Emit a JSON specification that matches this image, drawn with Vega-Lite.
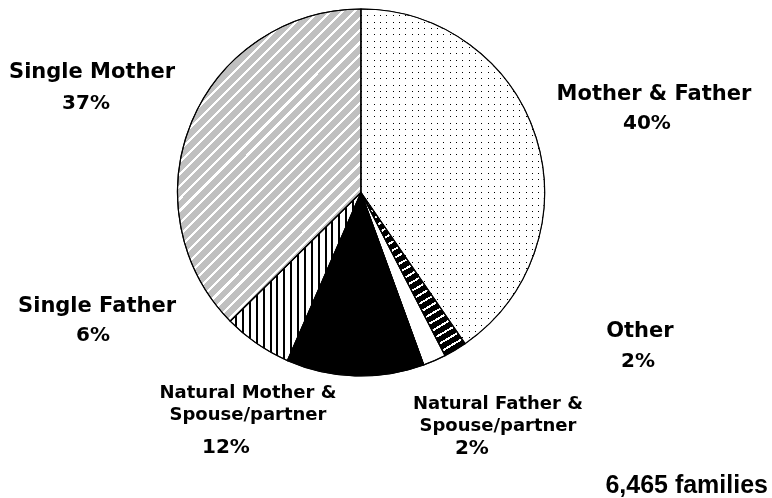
{
  "$schema": "https://vega.github.io/schema/vega-lite/v6.json",
  "autosize": "none",
  "width": 722,
  "height": 385,
  "padding": {"left": 0, "top": 0, "right": 50, "bottom": 113},
  "background": "#ffffff",
  "config": {"view": {"stroke": null}},
  "title": {"text": "6,465 families", "orient": "bottom", "anchor": "end", "frame": "group", "font": "Liberation Sans", "fontSize": 25, "fontWeight": "bold", "color": "#000000", "offset": -29, "dx": 46, "baseline": "alphabetic"},
  "data": {"values": [
    {"id": "MF", "name": "Mother & Father", "pct": "40%", "value": 40, "order": 1},
    {"id": "OT", "name": "Other", "pct": "2%", "value": 2, "order": 2},
    {"id": "NF", "name": "Natural Father &\nSpouse/partner", "pct": "2%", "value": 2, "order": 3},
    {"id": "NM", "name": "Natural Mother &\nSpouse/partner", "pct": "12%", "value": 12, "order": 4},
    {"id": "SF", "name": "Single Father", "pct": "6%", "value": 6, "order": 5},
    {"id": "SM", "name": "Single Mother", "pct": "37%", "value": 37, "order": 6}
  ]},
  "encoding": {
    "theta": {"field": "value", "type": "quantitative", "stack": true},
    "order": {"field": "order", "type": "quantitative"}
  },
  "layer": [
    {
      "mark": {"type": "arc", "radius": 183.5, "stroke": "#000000", "strokeWidth": 1},
      "encoding": {
        "fill": {
          "condition": [
            {"test": "datum.id==='NF'", "value": "#ffffff"},
            {"test": "datum.id==='NM'", "value": "#000000"},
            {"test": "datum.id==='MF'", "value": {"gradient": "linear", "x1": 0, "y1": 0, "x2": 1, "y2": 0, "stops": [
              {"offset": 0, "color": "#000"}, {"offset": 0.0055, "color": "#000"}, {"offset": 0.0055, "color": "#fff"}, {"offset": 0.03448, "color": "#fff"},
              {"offset": 0.03448, "color": "#000"}, {"offset": 0.03998, "color": "#000"}, {"offset": 0.03998, "color": "#fff"}, {"offset": 0.06897, "color": "#fff"},
              {"offset": 0.06897, "color": "#000"}, {"offset": 0.07447, "color": "#000"}, {"offset": 0.07447, "color": "#fff"}, {"offset": 0.10345, "color": "#fff"},
              {"offset": 0.10345, "color": "#000"}, {"offset": 0.10895, "color": "#000"}, {"offset": 0.10895, "color": "#fff"}, {"offset": 0.13793, "color": "#fff"},
              {"offset": 0.13793, "color": "#000"}, {"offset": 0.14343, "color": "#000"}, {"offset": 0.14343, "color": "#fff"}, {"offset": 0.17241, "color": "#fff"},
              {"offset": 0.17241, "color": "#000"}, {"offset": 0.17791, "color": "#000"}, {"offset": 0.17791, "color": "#fff"}, {"offset": 0.2069, "color": "#fff"},
              {"offset": 0.2069, "color": "#000"}, {"offset": 0.2124, "color": "#000"}, {"offset": 0.2124, "color": "#fff"}, {"offset": 0.24138, "color": "#fff"},
              {"offset": 0.24138, "color": "#000"}, {"offset": 0.24688, "color": "#000"}, {"offset": 0.24688, "color": "#fff"}, {"offset": 0.27586, "color": "#fff"},
              {"offset": 0.27586, "color": "#000"}, {"offset": 0.28136, "color": "#000"}, {"offset": 0.28136, "color": "#fff"}, {"offset": 0.31034, "color": "#fff"},
              {"offset": 0.31034, "color": "#000"}, {"offset": 0.31584, "color": "#000"}, {"offset": 0.31584, "color": "#fff"}, {"offset": 0.34483, "color": "#fff"},
              {"offset": 0.34483, "color": "#000"}, {"offset": 0.35033, "color": "#000"}, {"offset": 0.35033, "color": "#fff"}, {"offset": 0.37931, "color": "#fff"},
              {"offset": 0.37931, "color": "#000"}, {"offset": 0.38481, "color": "#000"}, {"offset": 0.38481, "color": "#fff"}, {"offset": 0.41379, "color": "#fff"},
              {"offset": 0.41379, "color": "#000"}, {"offset": 0.41929, "color": "#000"}, {"offset": 0.41929, "color": "#fff"}, {"offset": 0.44828, "color": "#fff"},
              {"offset": 0.44828, "color": "#000"}, {"offset": 0.45378, "color": "#000"}, {"offset": 0.45378, "color": "#fff"}, {"offset": 0.48276, "color": "#fff"},
              {"offset": 0.48276, "color": "#000"}, {"offset": 0.48826, "color": "#000"}, {"offset": 0.48826, "color": "#fff"}, {"offset": 0.51724, "color": "#fff"},
              {"offset": 0.51724, "color": "#000"}, {"offset": 0.52274, "color": "#000"}, {"offset": 0.52274, "color": "#fff"}, {"offset": 0.55172, "color": "#fff"},
              {"offset": 0.55172, "color": "#000"}, {"offset": 0.55722, "color": "#000"}, {"offset": 0.55722, "color": "#fff"}, {"offset": 0.58621, "color": "#fff"},
              {"offset": 0.58621, "color": "#000"}, {"offset": 0.59171, "color": "#000"}, {"offset": 0.59171, "color": "#fff"}, {"offset": 0.62069, "color": "#fff"},
              {"offset": 0.62069, "color": "#000"}, {"offset": 0.62619, "color": "#000"}, {"offset": 0.62619, "color": "#fff"}, {"offset": 0.65517, "color": "#fff"},
              {"offset": 0.65517, "color": "#000"}, {"offset": 0.66067, "color": "#000"}, {"offset": 0.66067, "color": "#fff"}, {"offset": 0.68966, "color": "#fff"},
              {"offset": 0.68966, "color": "#000"}, {"offset": 0.69516, "color": "#000"}, {"offset": 0.69516, "color": "#fff"}, {"offset": 0.72414, "color": "#fff"},
              {"offset": 0.72414, "color": "#000"}, {"offset": 0.72964, "color": "#000"}, {"offset": 0.72964, "color": "#fff"}, {"offset": 0.75862, "color": "#fff"},
              {"offset": 0.75862, "color": "#000"}, {"offset": 0.76412, "color": "#000"}, {"offset": 0.76412, "color": "#fff"}, {"offset": 0.7931, "color": "#fff"},
              {"offset": 0.7931, "color": "#000"}, {"offset": 0.7986, "color": "#000"}, {"offset": 0.7986, "color": "#fff"}, {"offset": 0.82759, "color": "#fff"},
              {"offset": 0.82759, "color": "#000"}, {"offset": 0.83309, "color": "#000"}, {"offset": 0.83309, "color": "#fff"}, {"offset": 0.86207, "color": "#fff"},
              {"offset": 0.86207, "color": "#000"}, {"offset": 0.86757, "color": "#000"}, {"offset": 0.86757, "color": "#fff"}, {"offset": 0.89655, "color": "#fff"},
              {"offset": 0.89655, "color": "#000"}, {"offset": 0.90205, "color": "#000"}, {"offset": 0.90205, "color": "#fff"}, {"offset": 0.93103, "color": "#fff"},
              {"offset": 0.93103, "color": "#000"}, {"offset": 0.93653, "color": "#000"}, {"offset": 0.93653, "color": "#fff"}, {"offset": 0.96552, "color": "#fff"},
              {"offset": 0.96552, "color": "#000"}, {"offset": 0.97102, "color": "#000"}, {"offset": 0.97102, "color": "#fff"}, {"offset": 1, "color": "#fff"}
            ]}},
            {"test": "datum.id==='SM'", "value": {"gradient": "linear", "x1": 0, "y1": 0, "x2": 0.694, "y2": 1.18, "stops": [
              {"offset": 0, "color": "#c0c0c0"}, {"offset": 0.01805, "color": "#c0c0c0"}, {"offset": 0.01805, "color": "#fff"}, {"offset": 0.02439, "color": "#fff"},
              {"offset": 0.02439, "color": "#c0c0c0"}, {"offset": 0.04244, "color": "#c0c0c0"}, {"offset": 0.04244, "color": "#fff"}, {"offset": 0.04878, "color": "#fff"},
              {"offset": 0.04878, "color": "#c0c0c0"}, {"offset": 0.06683, "color": "#c0c0c0"}, {"offset": 0.06683, "color": "#fff"}, {"offset": 0.07317, "color": "#fff"},
              {"offset": 0.07317, "color": "#c0c0c0"}, {"offset": 0.09122, "color": "#c0c0c0"}, {"offset": 0.09122, "color": "#fff"}, {"offset": 0.09756, "color": "#fff"},
              {"offset": 0.09756, "color": "#c0c0c0"}, {"offset": 0.11561, "color": "#c0c0c0"}, {"offset": 0.11561, "color": "#fff"}, {"offset": 0.12195, "color": "#fff"},
              {"offset": 0.12195, "color": "#c0c0c0"}, {"offset": 0.14, "color": "#c0c0c0"}, {"offset": 0.14, "color": "#fff"}, {"offset": 0.14634, "color": "#fff"},
              {"offset": 0.14634, "color": "#c0c0c0"}, {"offset": 0.16439, "color": "#c0c0c0"}, {"offset": 0.16439, "color": "#fff"}, {"offset": 0.17073, "color": "#fff"},
              {"offset": 0.17073, "color": "#c0c0c0"}, {"offset": 0.18878, "color": "#c0c0c0"}, {"offset": 0.18878, "color": "#fff"}, {"offset": 0.19512, "color": "#fff"},
              {"offset": 0.19512, "color": "#c0c0c0"}, {"offset": 0.21317, "color": "#c0c0c0"}, {"offset": 0.21317, "color": "#fff"}, {"offset": 0.21951, "color": "#fff"},
              {"offset": 0.21951, "color": "#c0c0c0"}, {"offset": 0.23756, "color": "#c0c0c0"}, {"offset": 0.23756, "color": "#fff"}, {"offset": 0.2439, "color": "#fff"},
              {"offset": 0.2439, "color": "#c0c0c0"}, {"offset": 0.26195, "color": "#c0c0c0"}, {"offset": 0.26195, "color": "#fff"}, {"offset": 0.26829, "color": "#fff"},
              {"offset": 0.26829, "color": "#c0c0c0"}, {"offset": 0.28634, "color": "#c0c0c0"}, {"offset": 0.28634, "color": "#fff"}, {"offset": 0.29268, "color": "#fff"},
              {"offset": 0.29268, "color": "#c0c0c0"}, {"offset": 0.31073, "color": "#c0c0c0"}, {"offset": 0.31073, "color": "#fff"}, {"offset": 0.31707, "color": "#fff"},
              {"offset": 0.31707, "color": "#c0c0c0"}, {"offset": 0.33512, "color": "#c0c0c0"}, {"offset": 0.33512, "color": "#fff"}, {"offset": 0.34146, "color": "#fff"},
              {"offset": 0.34146, "color": "#c0c0c0"}, {"offset": 0.35951, "color": "#c0c0c0"}, {"offset": 0.35951, "color": "#fff"}, {"offset": 0.36585, "color": "#fff"},
              {"offset": 0.36585, "color": "#c0c0c0"}, {"offset": 0.3839, "color": "#c0c0c0"}, {"offset": 0.3839, "color": "#fff"}, {"offset": 0.39024, "color": "#fff"},
              {"offset": 0.39024, "color": "#c0c0c0"}, {"offset": 0.40829, "color": "#c0c0c0"}, {"offset": 0.40829, "color": "#fff"}, {"offset": 0.41463, "color": "#fff"},
              {"offset": 0.41463, "color": "#c0c0c0"}, {"offset": 0.43268, "color": "#c0c0c0"}, {"offset": 0.43268, "color": "#fff"}, {"offset": 0.43902, "color": "#fff"},
              {"offset": 0.43902, "color": "#c0c0c0"}, {"offset": 0.45707, "color": "#c0c0c0"}, {"offset": 0.45707, "color": "#fff"}, {"offset": 0.46341, "color": "#fff"},
              {"offset": 0.46341, "color": "#c0c0c0"}, {"offset": 0.48146, "color": "#c0c0c0"}, {"offset": 0.48146, "color": "#fff"}, {"offset": 0.4878, "color": "#fff"},
              {"offset": 0.4878, "color": "#c0c0c0"}, {"offset": 0.50585, "color": "#c0c0c0"}, {"offset": 0.50585, "color": "#fff"}, {"offset": 0.5122, "color": "#fff"},
              {"offset": 0.5122, "color": "#c0c0c0"}, {"offset": 0.53025, "color": "#c0c0c0"}, {"offset": 0.53025, "color": "#fff"}, {"offset": 0.53659, "color": "#fff"},
              {"offset": 0.53659, "color": "#c0c0c0"}, {"offset": 0.55464, "color": "#c0c0c0"}, {"offset": 0.55464, "color": "#fff"}, {"offset": 0.56098, "color": "#fff"},
              {"offset": 0.56098, "color": "#c0c0c0"}, {"offset": 0.57903, "color": "#c0c0c0"}, {"offset": 0.57903, "color": "#fff"}, {"offset": 0.58537, "color": "#fff"},
              {"offset": 0.58537, "color": "#c0c0c0"}, {"offset": 0.60342, "color": "#c0c0c0"}, {"offset": 0.60342, "color": "#fff"}, {"offset": 0.60976, "color": "#fff"},
              {"offset": 0.60976, "color": "#c0c0c0"}, {"offset": 0.62781, "color": "#c0c0c0"}, {"offset": 0.62781, "color": "#fff"}, {"offset": 0.63415, "color": "#fff"},
              {"offset": 0.63415, "color": "#c0c0c0"}, {"offset": 0.6522, "color": "#c0c0c0"}, {"offset": 0.6522, "color": "#fff"}, {"offset": 0.65854, "color": "#fff"},
              {"offset": 0.65854, "color": "#c0c0c0"}, {"offset": 0.67659, "color": "#c0c0c0"}, {"offset": 0.67659, "color": "#fff"}, {"offset": 0.68293, "color": "#fff"},
              {"offset": 0.68293, "color": "#c0c0c0"}, {"offset": 0.70098, "color": "#c0c0c0"}, {"offset": 0.70098, "color": "#fff"}, {"offset": 0.70732, "color": "#fff"},
              {"offset": 0.70732, "color": "#c0c0c0"}, {"offset": 0.72537, "color": "#c0c0c0"}, {"offset": 0.72537, "color": "#fff"}, {"offset": 0.73171, "color": "#fff"},
              {"offset": 0.73171, "color": "#c0c0c0"}, {"offset": 0.74976, "color": "#c0c0c0"}, {"offset": 0.74976, "color": "#fff"}, {"offset": 0.7561, "color": "#fff"},
              {"offset": 0.7561, "color": "#c0c0c0"}, {"offset": 0.77415, "color": "#c0c0c0"}, {"offset": 0.77415, "color": "#fff"}, {"offset": 0.78049, "color": "#fff"},
              {"offset": 0.78049, "color": "#c0c0c0"}, {"offset": 0.79854, "color": "#c0c0c0"}, {"offset": 0.79854, "color": "#fff"}, {"offset": 0.80488, "color": "#fff"},
              {"offset": 0.80488, "color": "#c0c0c0"}, {"offset": 0.82293, "color": "#c0c0c0"}, {"offset": 0.82293, "color": "#fff"}, {"offset": 0.82927, "color": "#fff"},
              {"offset": 0.82927, "color": "#c0c0c0"}, {"offset": 0.84732, "color": "#c0c0c0"}, {"offset": 0.84732, "color": "#fff"}, {"offset": 0.85366, "color": "#fff"},
              {"offset": 0.85366, "color": "#c0c0c0"}, {"offset": 0.87171, "color": "#c0c0c0"}, {"offset": 0.87171, "color": "#fff"}, {"offset": 0.87805, "color": "#fff"},
              {"offset": 0.87805, "color": "#c0c0c0"}, {"offset": 0.8961, "color": "#c0c0c0"}, {"offset": 0.8961, "color": "#fff"}, {"offset": 0.90244, "color": "#fff"},
              {"offset": 0.90244, "color": "#c0c0c0"}, {"offset": 0.92049, "color": "#c0c0c0"}, {"offset": 0.92049, "color": "#fff"}, {"offset": 0.92683, "color": "#fff"},
              {"offset": 0.92683, "color": "#c0c0c0"}, {"offset": 0.94488, "color": "#c0c0c0"}, {"offset": 0.94488, "color": "#fff"}, {"offset": 0.95122, "color": "#fff"},
              {"offset": 0.95122, "color": "#c0c0c0"}, {"offset": 0.96927, "color": "#c0c0c0"}, {"offset": 0.96927, "color": "#fff"}, {"offset": 0.97561, "color": "#fff"},
              {"offset": 0.97561, "color": "#c0c0c0"}, {"offset": 0.99366, "color": "#c0c0c0"}, {"offset": 0.99366, "color": "#fff"}, {"offset": 1, "color": "#fff"}
            ]}},
            {"test": "datum.id==='SF'", "value": {"gradient": "linear", "x1": 0, "y1": 0, "x2": 1, "y2": 0, "stops": [
              {"offset": 0, "color": "#fff"}, {"offset": 0.0374, "color": "#fff"}, {"offset": 0.0374, "color": "#000"}, {"offset": 0.0526, "color": "#000"},
              {"offset": 0.0526, "color": "#fff"}, {"offset": 0.09, "color": "#fff"}, {"offset": 0.09, "color": "#000"}, {"offset": 0.1053, "color": "#000"},
              {"offset": 0.1053, "color": "#fff"}, {"offset": 0.1427, "color": "#fff"}, {"offset": 0.1427, "color": "#000"}, {"offset": 0.1579, "color": "#000"},
              {"offset": 0.1579, "color": "#fff"}, {"offset": 0.1953, "color": "#fff"}, {"offset": 0.1953, "color": "#000"}, {"offset": 0.2105, "color": "#000"},
              {"offset": 0.2105, "color": "#fff"}, {"offset": 0.2479, "color": "#fff"}, {"offset": 0.2479, "color": "#000"}, {"offset": 0.2632, "color": "#000"},
              {"offset": 0.2632, "color": "#fff"}, {"offset": 0.3006, "color": "#fff"}, {"offset": 0.3006, "color": "#000"}, {"offset": 0.3158, "color": "#000"},
              {"offset": 0.3158, "color": "#fff"}, {"offset": 0.3532, "color": "#fff"}, {"offset": 0.3532, "color": "#000"}, {"offset": 0.3684, "color": "#000"},
              {"offset": 0.3684, "color": "#fff"}, {"offset": 0.4058, "color": "#fff"}, {"offset": 0.4058, "color": "#000"}, {"offset": 0.4211, "color": "#000"},
              {"offset": 0.4211, "color": "#fff"}, {"offset": 0.4585, "color": "#fff"}, {"offset": 0.4585, "color": "#000"}, {"offset": 0.4737, "color": "#000"},
              {"offset": 0.4737, "color": "#fff"}, {"offset": 0.5111, "color": "#fff"}, {"offset": 0.5111, "color": "#000"}, {"offset": 0.5263, "color": "#000"},
              {"offset": 0.5263, "color": "#fff"}, {"offset": 0.5637, "color": "#fff"}, {"offset": 0.5637, "color": "#000"}, {"offset": 0.5789, "color": "#000"},
              {"offset": 0.5789, "color": "#fff"}, {"offset": 0.6163, "color": "#fff"}, {"offset": 0.6163, "color": "#000"}, {"offset": 0.6316, "color": "#000"},
              {"offset": 0.6316, "color": "#fff"}, {"offset": 0.669, "color": "#fff"}, {"offset": 0.669, "color": "#000"}, {"offset": 0.6842, "color": "#000"},
              {"offset": 0.6842, "color": "#fff"}, {"offset": 0.7216, "color": "#fff"}, {"offset": 0.7216, "color": "#000"}, {"offset": 0.7368, "color": "#000"},
              {"offset": 0.7368, "color": "#fff"}, {"offset": 0.7742, "color": "#fff"}, {"offset": 0.7742, "color": "#000"}, {"offset": 0.7895, "color": "#000"},
              {"offset": 0.7895, "color": "#fff"}, {"offset": 0.8269, "color": "#fff"}, {"offset": 0.8269, "color": "#000"}, {"offset": 0.8421, "color": "#000"},
              {"offset": 0.8421, "color": "#fff"}, {"offset": 0.8795, "color": "#fff"}, {"offset": 0.8795, "color": "#000"}, {"offset": 0.8947, "color": "#000"},
              {"offset": 0.8947, "color": "#fff"}, {"offset": 0.9321, "color": "#fff"}, {"offset": 0.9321, "color": "#000"}, {"offset": 0.9474, "color": "#000"},
              {"offset": 0.9474, "color": "#fff"}, {"offset": 0.9848, "color": "#fff"}, {"offset": 0.9848, "color": "#000"}, {"offset": 1, "color": "#000"}
            ]}},
            {"test": "datum.id==='OT'", "value": {"gradient": "linear", "x1": 0, "y1": 0, "x2": 0.456, "y2": 1.206, "stops": [
              {"offset": 0, "color": "#000"}, {"offset": 0.0281, "color": "#000"}, {"offset": 0.0281, "color": "#fff"}, {"offset": 0.0385, "color": "#fff"},
              {"offset": 0.0385, "color": "#000"}, {"offset": 0.0665, "color": "#000"}, {"offset": 0.0665, "color": "#fff"}, {"offset": 0.0769, "color": "#fff"},
              {"offset": 0.0769, "color": "#000"}, {"offset": 0.105, "color": "#000"}, {"offset": 0.105, "color": "#fff"}, {"offset": 0.1154, "color": "#fff"},
              {"offset": 0.1154, "color": "#000"}, {"offset": 0.1435, "color": "#000"}, {"offset": 0.1435, "color": "#fff"}, {"offset": 0.1538, "color": "#fff"},
              {"offset": 0.1538, "color": "#000"}, {"offset": 0.1819, "color": "#000"}, {"offset": 0.1819, "color": "#fff"}, {"offset": 0.1923, "color": "#fff"},
              {"offset": 0.1923, "color": "#000"}, {"offset": 0.2204, "color": "#000"}, {"offset": 0.2204, "color": "#fff"}, {"offset": 0.2308, "color": "#fff"},
              {"offset": 0.2308, "color": "#000"}, {"offset": 0.2588, "color": "#000"}, {"offset": 0.2588, "color": "#fff"}, {"offset": 0.2692, "color": "#fff"},
              {"offset": 0.2692, "color": "#000"}, {"offset": 0.2973, "color": "#000"}, {"offset": 0.2973, "color": "#fff"}, {"offset": 0.3077, "color": "#fff"},
              {"offset": 0.3077, "color": "#000"}, {"offset": 0.3358, "color": "#000"}, {"offset": 0.3358, "color": "#fff"}, {"offset": 0.3462, "color": "#fff"},
              {"offset": 0.3462, "color": "#000"}, {"offset": 0.3742, "color": "#000"}, {"offset": 0.3742, "color": "#fff"}, {"offset": 0.3846, "color": "#fff"},
              {"offset": 0.3846, "color": "#000"}, {"offset": 0.4127, "color": "#000"}, {"offset": 0.4127, "color": "#fff"}, {"offset": 0.4231, "color": "#fff"},
              {"offset": 0.4231, "color": "#000"}, {"offset": 0.4512, "color": "#000"}, {"offset": 0.4512, "color": "#fff"}, {"offset": 0.4615, "color": "#fff"},
              {"offset": 0.4615, "color": "#000"}, {"offset": 0.4896, "color": "#000"}, {"offset": 0.4896, "color": "#fff"}, {"offset": 0.5, "color": "#fff"},
              {"offset": 0.5, "color": "#000"}, {"offset": 0.5281, "color": "#000"}, {"offset": 0.5281, "color": "#fff"}, {"offset": 0.5385, "color": "#fff"},
              {"offset": 0.5385, "color": "#000"}, {"offset": 0.5665, "color": "#000"}, {"offset": 0.5665, "color": "#fff"}, {"offset": 0.5769, "color": "#fff"},
              {"offset": 0.5769, "color": "#000"}, {"offset": 0.605, "color": "#000"}, {"offset": 0.605, "color": "#fff"}, {"offset": 0.6154, "color": "#fff"},
              {"offset": 0.6154, "color": "#000"}, {"offset": 0.6435, "color": "#000"}, {"offset": 0.6435, "color": "#fff"}, {"offset": 0.6538, "color": "#fff"},
              {"offset": 0.6538, "color": "#000"}, {"offset": 0.6819, "color": "#000"}, {"offset": 0.6819, "color": "#fff"}, {"offset": 0.6923, "color": "#fff"},
              {"offset": 0.6923, "color": "#000"}, {"offset": 0.7204, "color": "#000"}, {"offset": 0.7204, "color": "#fff"}, {"offset": 0.7308, "color": "#fff"},
              {"offset": 0.7308, "color": "#000"}, {"offset": 0.7588, "color": "#000"}, {"offset": 0.7588, "color": "#fff"}, {"offset": 0.7692, "color": "#fff"},
              {"offset": 0.7692, "color": "#000"}, {"offset": 0.7973, "color": "#000"}, {"offset": 0.7973, "color": "#fff"}, {"offset": 0.8077, "color": "#fff"},
              {"offset": 0.8077, "color": "#000"}, {"offset": 0.8358, "color": "#000"}, {"offset": 0.8358, "color": "#fff"}, {"offset": 0.8462, "color": "#fff"},
              {"offset": 0.8462, "color": "#000"}, {"offset": 0.8742, "color": "#000"}, {"offset": 0.8742, "color": "#fff"}, {"offset": 0.8846, "color": "#fff"},
              {"offset": 0.8846, "color": "#000"}, {"offset": 0.9127, "color": "#000"}, {"offset": 0.9127, "color": "#fff"}, {"offset": 0.9231, "color": "#fff"},
              {"offset": 0.9231, "color": "#000"}, {"offset": 0.9512, "color": "#000"}, {"offset": 0.9512, "color": "#fff"}, {"offset": 0.9615, "color": "#fff"},
              {"offset": 0.9615, "color": "#000"}, {"offset": 0.9896, "color": "#000"}, {"offset": 0.9896, "color": "#fff"}, {"offset": 1, "color": "#fff"}
            ]}}
          ],
          "value": "#ffffff"
        }
      }
    },
    {
      "mark": {"type": "arc", "radius": 183.5, "blend": "lighten", "strokeWidth": 0},
      "encoding": {
        "fill": {
          "condition": {"test": "datum.id==='MF'", "value": {"gradient": "linear", "x1": 0, "y1": 0, "x2": 0, "y2": 1, "stops": [
            {"offset": 0, "color": "#000"}, {"offset": 0.003, "color": "#000"}, {"offset": 0.003, "color": "#fff"}, {"offset": 0.01887, "color": "#fff"},
            {"offset": 0.01887, "color": "#000"}, {"offset": 0.02187, "color": "#000"}, {"offset": 0.02187, "color": "#fff"}, {"offset": 0.03774, "color": "#fff"},
            {"offset": 0.03774, "color": "#000"}, {"offset": 0.04074, "color": "#000"}, {"offset": 0.04074, "color": "#fff"}, {"offset": 0.0566, "color": "#fff"},
            {"offset": 0.0566, "color": "#000"}, {"offset": 0.0596, "color": "#000"}, {"offset": 0.0596, "color": "#fff"}, {"offset": 0.07547, "color": "#fff"},
            {"offset": 0.07547, "color": "#000"}, {"offset": 0.07847, "color": "#000"}, {"offset": 0.07847, "color": "#fff"}, {"offset": 0.09434, "color": "#fff"},
            {"offset": 0.09434, "color": "#000"}, {"offset": 0.09734, "color": "#000"}, {"offset": 0.09734, "color": "#fff"}, {"offset": 0.11321, "color": "#fff"},
            {"offset": 0.11321, "color": "#000"}, {"offset": 0.11621, "color": "#000"}, {"offset": 0.11621, "color": "#fff"}, {"offset": 0.13208, "color": "#fff"},
            {"offset": 0.13208, "color": "#000"}, {"offset": 0.13508, "color": "#000"}, {"offset": 0.13508, "color": "#fff"}, {"offset": 0.15094, "color": "#fff"},
            {"offset": 0.15094, "color": "#000"}, {"offset": 0.15394, "color": "#000"}, {"offset": 0.15394, "color": "#fff"}, {"offset": 0.16981, "color": "#fff"},
            {"offset": 0.16981, "color": "#000"}, {"offset": 0.17281, "color": "#000"}, {"offset": 0.17281, "color": "#fff"}, {"offset": 0.18868, "color": "#fff"},
            {"offset": 0.18868, "color": "#000"}, {"offset": 0.19168, "color": "#000"}, {"offset": 0.19168, "color": "#fff"}, {"offset": 0.20755, "color": "#fff"},
            {"offset": 0.20755, "color": "#000"}, {"offset": 0.21055, "color": "#000"}, {"offset": 0.21055, "color": "#fff"}, {"offset": 0.22642, "color": "#fff"},
            {"offset": 0.22642, "color": "#000"}, {"offset": 0.22942, "color": "#000"}, {"offset": 0.22942, "color": "#fff"}, {"offset": 0.24528, "color": "#fff"},
            {"offset": 0.24528, "color": "#000"}, {"offset": 0.24828, "color": "#000"}, {"offset": 0.24828, "color": "#fff"}, {"offset": 0.26415, "color": "#fff"},
            {"offset": 0.26415, "color": "#000"}, {"offset": 0.26715, "color": "#000"}, {"offset": 0.26715, "color": "#fff"}, {"offset": 0.28302, "color": "#fff"},
            {"offset": 0.28302, "color": "#000"}, {"offset": 0.28602, "color": "#000"}, {"offset": 0.28602, "color": "#fff"}, {"offset": 0.30189, "color": "#fff"},
            {"offset": 0.30189, "color": "#000"}, {"offset": 0.30489, "color": "#000"}, {"offset": 0.30489, "color": "#fff"}, {"offset": 0.32075, "color": "#fff"},
            {"offset": 0.32075, "color": "#000"}, {"offset": 0.32375, "color": "#000"}, {"offset": 0.32375, "color": "#fff"}, {"offset": 0.33962, "color": "#fff"},
            {"offset": 0.33962, "color": "#000"}, {"offset": 0.34262, "color": "#000"}, {"offset": 0.34262, "color": "#fff"}, {"offset": 0.35849, "color": "#fff"},
            {"offset": 0.35849, "color": "#000"}, {"offset": 0.36149, "color": "#000"}, {"offset": 0.36149, "color": "#fff"}, {"offset": 0.37736, "color": "#fff"},
            {"offset": 0.37736, "color": "#000"}, {"offset": 0.38036, "color": "#000"}, {"offset": 0.38036, "color": "#fff"}, {"offset": 0.39623, "color": "#fff"},
            {"offset": 0.39623, "color": "#000"}, {"offset": 0.39923, "color": "#000"}, {"offset": 0.39923, "color": "#fff"}, {"offset": 0.41509, "color": "#fff"},
            {"offset": 0.41509, "color": "#000"}, {"offset": 0.41809, "color": "#000"}, {"offset": 0.41809, "color": "#fff"}, {"offset": 0.43396, "color": "#fff"},
            {"offset": 0.43396, "color": "#000"}, {"offset": 0.43696, "color": "#000"}, {"offset": 0.43696, "color": "#fff"}, {"offset": 0.45283, "color": "#fff"},
            {"offset": 0.45283, "color": "#000"}, {"offset": 0.45583, "color": "#000"}, {"offset": 0.45583, "color": "#fff"}, {"offset": 0.4717, "color": "#fff"},
            {"offset": 0.4717, "color": "#000"}, {"offset": 0.4747, "color": "#000"}, {"offset": 0.4747, "color": "#fff"}, {"offset": 0.49057, "color": "#fff"},
            {"offset": 0.49057, "color": "#000"}, {"offset": 0.49357, "color": "#000"}, {"offset": 0.49357, "color": "#fff"}, {"offset": 0.50943, "color": "#fff"},
            {"offset": 0.50943, "color": "#000"}, {"offset": 0.51243, "color": "#000"}, {"offset": 0.51243, "color": "#fff"}, {"offset": 0.5283, "color": "#fff"},
            {"offset": 0.5283, "color": "#000"}, {"offset": 0.5313, "color": "#000"}, {"offset": 0.5313, "color": "#fff"}, {"offset": 0.54717, "color": "#fff"},
            {"offset": 0.54717, "color": "#000"}, {"offset": 0.55017, "color": "#000"}, {"offset": 0.55017, "color": "#fff"}, {"offset": 0.56604, "color": "#fff"},
            {"offset": 0.56604, "color": "#000"}, {"offset": 0.56904, "color": "#000"}, {"offset": 0.56904, "color": "#fff"}, {"offset": 0.58491, "color": "#fff"},
            {"offset": 0.58491, "color": "#000"}, {"offset": 0.58791, "color": "#000"}, {"offset": 0.58791, "color": "#fff"}, {"offset": 0.60377, "color": "#fff"},
            {"offset": 0.60377, "color": "#000"}, {"offset": 0.60677, "color": "#000"}, {"offset": 0.60677, "color": "#fff"}, {"offset": 0.62264, "color": "#fff"},
            {"offset": 0.62264, "color": "#000"}, {"offset": 0.62564, "color": "#000"}, {"offset": 0.62564, "color": "#fff"}, {"offset": 0.64151, "color": "#fff"},
            {"offset": 0.64151, "color": "#000"}, {"offset": 0.64451, "color": "#000"}, {"offset": 0.64451, "color": "#fff"}, {"offset": 0.66038, "color": "#fff"},
            {"offset": 0.66038, "color": "#000"}, {"offset": 0.66338, "color": "#000"}, {"offset": 0.66338, "color": "#fff"}, {"offset": 0.67925, "color": "#fff"},
            {"offset": 0.67925, "color": "#000"}, {"offset": 0.68225, "color": "#000"}, {"offset": 0.68225, "color": "#fff"}, {"offset": 0.69811, "color": "#fff"},
            {"offset": 0.69811, "color": "#000"}, {"offset": 0.70111, "color": "#000"}, {"offset": 0.70111, "color": "#fff"}, {"offset": 0.71698, "color": "#fff"},
            {"offset": 0.71698, "color": "#000"}, {"offset": 0.71998, "color": "#000"}, {"offset": 0.71998, "color": "#fff"}, {"offset": 0.73585, "color": "#fff"},
            {"offset": 0.73585, "color": "#000"}, {"offset": 0.73885, "color": "#000"}, {"offset": 0.73885, "color": "#fff"}, {"offset": 0.75472, "color": "#fff"},
            {"offset": 0.75472, "color": "#000"}, {"offset": 0.75772, "color": "#000"}, {"offset": 0.75772, "color": "#fff"}, {"offset": 0.77358, "color": "#fff"},
            {"offset": 0.77358, "color": "#000"}, {"offset": 0.77658, "color": "#000"}, {"offset": 0.77658, "color": "#fff"}, {"offset": 0.79245, "color": "#fff"},
            {"offset": 0.79245, "color": "#000"}, {"offset": 0.79545, "color": "#000"}, {"offset": 0.79545, "color": "#fff"}, {"offset": 0.81132, "color": "#fff"},
            {"offset": 0.81132, "color": "#000"}, {"offset": 0.81432, "color": "#000"}, {"offset": 0.81432, "color": "#fff"}, {"offset": 0.83019, "color": "#fff"},
            {"offset": 0.83019, "color": "#000"}, {"offset": 0.83319, "color": "#000"}, {"offset": 0.83319, "color": "#fff"}, {"offset": 0.84906, "color": "#fff"},
            {"offset": 0.84906, "color": "#000"}, {"offset": 0.85206, "color": "#000"}, {"offset": 0.85206, "color": "#fff"}, {"offset": 0.86792, "color": "#fff"},
            {"offset": 0.86792, "color": "#000"}, {"offset": 0.87092, "color": "#000"}, {"offset": 0.87092, "color": "#fff"}, {"offset": 0.88679, "color": "#fff"},
            {"offset": 0.88679, "color": "#000"}, {"offset": 0.88979, "color": "#000"}, {"offset": 0.88979, "color": "#fff"}, {"offset": 0.90566, "color": "#fff"},
            {"offset": 0.90566, "color": "#000"}, {"offset": 0.90866, "color": "#000"}, {"offset": 0.90866, "color": "#fff"}, {"offset": 0.92453, "color": "#fff"},
            {"offset": 0.92453, "color": "#000"}, {"offset": 0.92753, "color": "#000"}, {"offset": 0.92753, "color": "#fff"}, {"offset": 0.9434, "color": "#fff"},
            {"offset": 0.9434, "color": "#000"}, {"offset": 0.9464, "color": "#000"}, {"offset": 0.9464, "color": "#fff"}, {"offset": 0.96226, "color": "#fff"},
            {"offset": 0.96226, "color": "#000"}, {"offset": 0.96526, "color": "#000"}, {"offset": 0.96526, "color": "#fff"}, {"offset": 0.98113, "color": "#fff"},
            {"offset": 0.98113, "color": "#000"}, {"offset": 0.98413, "color": "#000"}, {"offset": 0.98413, "color": "#fff"}, {"offset": 1, "color": "#fff"}
          ]}},
          "value": "transparent"
        }
      }
    },
    {"mark": {"type": "arc", "radius": 183.5, "filled": false, "stroke": "#000000", "strokeWidth": 1.2}},
    {"mark": {"type": "text", "radius": 290, "dx": -1.5, "dy": -2.5, "font": "DejaVu Sans", "fontSize": 21, "fontWeight": "bold", "align": "center", "baseline": "alphabetic", "color": "#000"},
     "encoding": {"text": {"condition": {"test": "datum.id==='SM'", "field": "name"}, "value": ""}}},
    {"mark": {"type": "text", "radius": 290, "dx": -7.5, "dy": 28.5, "font": "DejaVu Sans", "fontSize": 20, "fontWeight": "bold", "align": "center", "baseline": "alphabetic", "color": "#000"},
     "encoding": {"text": {"condition": {"test": "datum.id==='SM'", "field": "pct"}, "value": ""}}},
    {"mark": {"type": "text", "radius": 300, "dx": 6.5, "dy": -3.4, "font": "DejaVu Sans", "fontSize": 21, "fontWeight": "bold", "align": "center", "baseline": "alphabetic", "color": "#000"},
     "encoding": {"text": {"condition": {"test": "datum.id==='MF'", "field": "name"}, "value": ""}}},
    {"mark": {"type": "text", "radius": 300, "dx": -0.5, "dy": 25.6, "font": "DejaVu Sans", "fontSize": 20, "fontWeight": "bold", "align": "center", "baseline": "alphabetic", "color": "#000"},
     "encoding": {"text": {"condition": {"test": "datum.id==='MF'", "field": "pct"}, "value": ""}}},
    {"mark": {"type": "text", "radius": 250, "dx": -122.2, "dy": -86.4, "font": "DejaVu Sans", "fontSize": 21, "fontWeight": "bold", "align": "center", "baseline": "alphabetic", "color": "#000"},
     "encoding": {"text": {"condition": {"test": "datum.id==='SF'", "field": "name"}, "value": ""}}},
    {"mark": {"type": "text", "radius": 250, "dx": -126.2, "dy": -57.4, "font": "DejaVu Sans", "fontSize": 20, "fontWeight": "bold", "align": "center", "baseline": "alphabetic", "color": "#000"},
     "encoding": {"text": {"condition": {"test": "datum.id==='SF'", "field": "pct"}, "value": ""}}},
    {"mark": {"type": "text", "radius": 267, "dx": 141.8, "dy": -84.6, "font": "DejaVu Sans", "fontSize": 21, "fontWeight": "bold", "align": "center", "baseline": "alphabetic", "color": "#000"},
     "encoding": {"text": {"condition": {"test": "datum.id==='OT'", "field": "name"}, "value": ""}}},
    {"mark": {"type": "text", "radius": 267, "dx": 139.8, "dy": -54.6, "font": "DejaVu Sans", "fontSize": 20, "fontWeight": "bold", "align": "center", "baseline": "alphabetic", "color": "#000"},
     "encoding": {"text": {"condition": {"test": "datum.id==='OT'", "field": "pct"}, "value": ""}}},
    {"mark": {"type": "text", "radius": 253, "dx": 35.5, "dy": -15.3, "font": "DejaVu Sans", "fontSize": 18, "fontWeight": "bold", "align": "center", "baseline": "alphabetic", "lineBreak": "\n", "lineHeight": 22, "color": "#000"},
     "encoding": {"text": {"condition": {"test": "datum.id==='NF'", "field": "name"}, "value": ""}}},
    {"mark": {"type": "text", "radius": 253, "dx": 9.5, "dy": 29.7, "font": "DejaVu Sans", "fontSize": 20, "fontWeight": "bold", "align": "center", "baseline": "alphabetic", "color": "#000"},
     "encoding": {"text": {"condition": {"test": "datum.id==='NF'", "field": "pct"}, "value": ""}}},
    {"mark": {"type": "text", "radius": 215, "dx": -106.2, "dy": -9.4, "font": "DejaVu Sans", "fontSize": 18, "fontWeight": "bold", "align": "center", "baseline": "alphabetic", "lineBreak": "\n", "lineHeight": 22, "color": "#000"},
     "encoding": {"text": {"condition": {"test": "datum.id==='NM'", "field": "name"}, "value": ""}}},
    {"mark": {"type": "text", "radius": 215, "dx": -128.2, "dy": 45.6, "font": "DejaVu Sans", "fontSize": 20, "fontWeight": "bold", "align": "center", "baseline": "alphabetic", "color": "#000"},
     "encoding": {"text": {"condition": {"test": "datum.id==='NM'", "field": "pct"}, "value": ""}}}
  ]
}
